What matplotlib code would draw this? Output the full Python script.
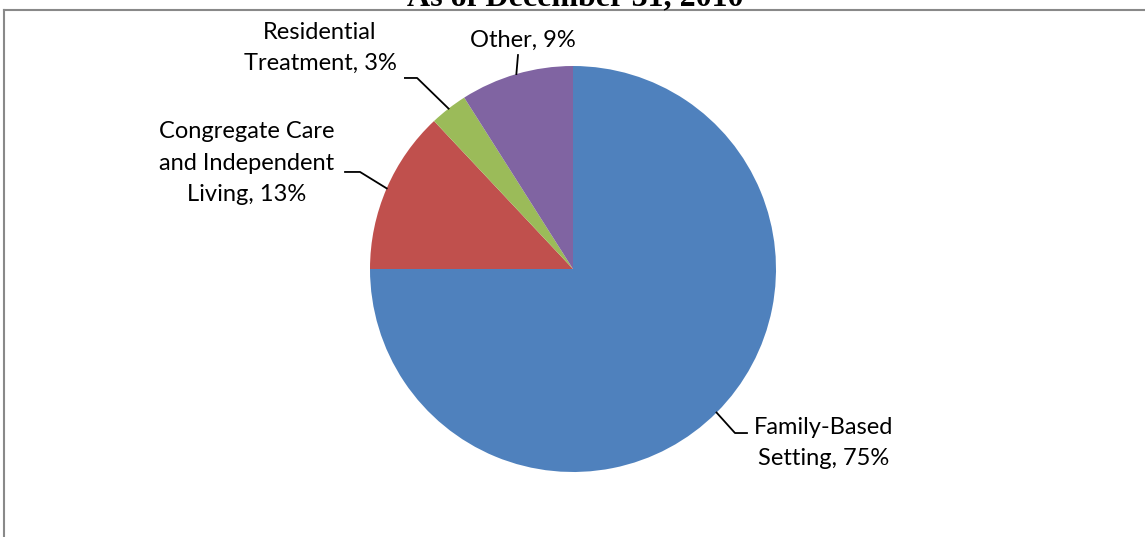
import numpy as np
import matplotlib.pyplot as plt
from matplotlib.lines import Line2D

# placement of children in care, as of Dec 31 2010
labels = ['Family-Based\nSetting, 75%', 'Congregate Care\nand Independent\nLiving, 13%',
          'Residential\nTreatment, 3%', 'Other, 9%']
shares = [75, 13, 3, 9]
colors = ['#4F81BD', '#C0504D', '#9BBB59', '#8064A2']

# label layout in data units (pie radius = 1)
text_pos = [(1.236, -0.857), (-1.606, 0.522), (-1.246, 1.089), (-0.246, 1.128)]
elbows = [[(0.798, -0.808), (0.857, -0.808)],
          [(-1.049, 0.478), (-1.123, 0.478)],
          [(-0.768, 0.941), (-0.828, 0.941)],
          [(-0.271, 1.054)]]

W, H = 1145, 537
cx, cy, R = 573, 269, 203

fig = plt.figure(figsize=(W / 100, H / 100), dpi=100)
ax = fig.add_axes([0, 0, 1, 1])
wedges, _ = ax.pie(shares, colors=colors, startangle=90, counterclock=False,
                   radius=1, wedgeprops=dict(linewidth=0))
ax.set_aspect('equal')
ax.set_xlim(-cx / R, (W - cx) / R)
ax.set_ylim(-(H - cy) / R, cy / R)
ax.axis('off')

for w, lab, tp, el in zip(wedges, labels, text_pos, elbows):
    mid = np.deg2rad((w.theta1 + w.theta2) / 2)
    pts = [(np.cos(mid), np.sin(mid))] + el
    xs, ys = zip(*pts)
    ax.plot(xs, ys, color='black', lw=1.3)
    ax.text(tp[0], tp[1], lab, ha='center', va='center', fontsize=17,
            family='Lato', linespacing=1.6, multialignment='center')

# chart border (top and left visible)
fig.add_artist(Line2D([4 / W, 1], [1 - 9.5 / H, 1 - 9.5 / H], color='#898989', lw=1.5))
fig.add_artist(Line2D([4 / W, 4 / W], [0, 1 - 9.5 / H], color='#898989', lw=1.5))

# title, mostly cropped off the top
fig.text(575 / W, 1 - 5 / H, 'As of December 31, 2010', ha='center', va='baseline',
         fontsize=23, fontweight='bold', family='Liberation Serif')

fig.savefig('out.png', dpi=100)
